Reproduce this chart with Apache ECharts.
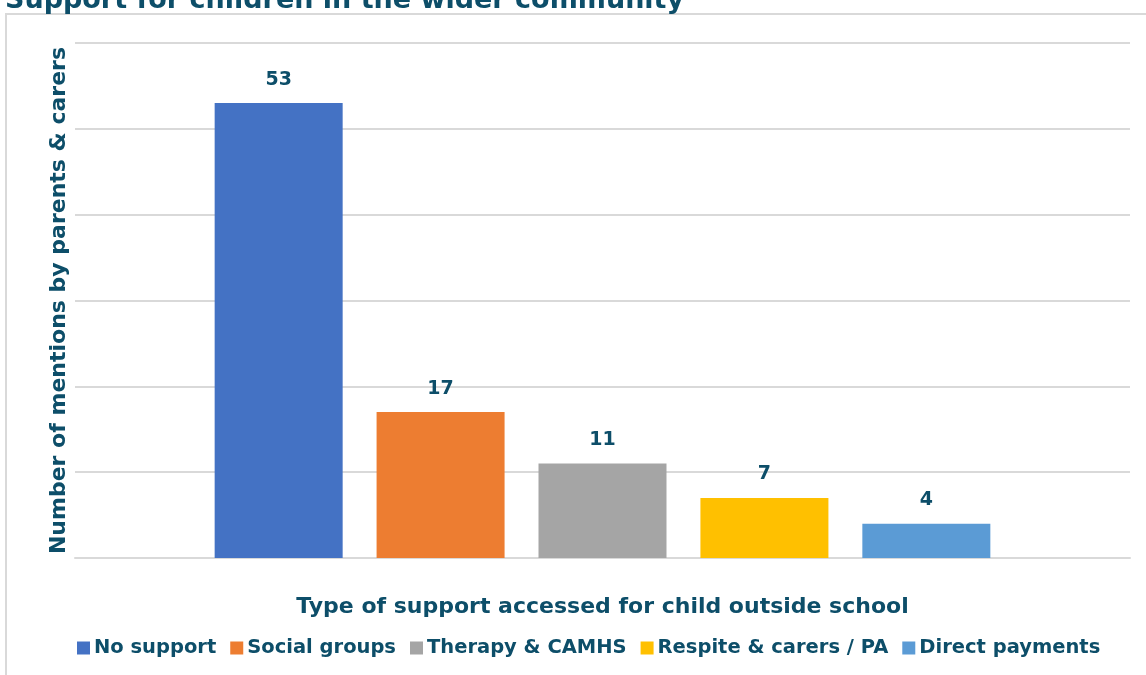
<!DOCTYPE html>
<html>
<head>
<meta charset="utf-8">
<script src="https://cdn.jsdelivr.net/npm/echarts@6/dist/echarts.min.js"></script>
<style>
  html, body { margin: 0; padding: 0; background: #fff; }
  #chart { width: 1146px; height: 675px; }
</style>
</head>
<body>
<div id="chart"></div>
<script>
// Support types and how often parents & carers mentioned each
const categories = ['No support', 'Social groups', 'Therapy & CAMHS', 'Respite & carers / PA', 'Direct payments'];
const mentions = [53, 17, 11, 7, 4];
const barColors = ['#4472C4', '#ED7D31', '#A5A5A5', '#FFC000', '#5B9BD5'];

const textColor = '#0D4E69';
const fontFamily = '"DejaVu Sans", sans-serif';

const chart = echarts.init(document.getElementById('chart'));

const series = categories.map((name, i) => ({
  name: name,
  type: 'bar',
  data: [mentions[i]],
  barWidth: 128,
  barGap: '26.5%',
  itemStyle: { color: barColors[i] },
  label: {
    show: true,
    position: 'top',
    distance: 14,
    color: textColor,
    fontFamily: fontFamily,
    fontWeight: 'bold',
    fontSize: 19
  }
}));

chart.setOption({
  animation: false,
  title: {
    text: 'Support for children in the wider community',
    left: 0,
    top: -18,
    textStyle: { color: textColor, fontFamily: fontFamily, fontWeight: 'bold', fontSize: 27 }
  },
  graphic: [{
    type: 'rect',
    shape: { x: 6, y: 14, width: 1200, height: 700 },
    style: { fill: 'none', stroke: '#D9D9D9', lineWidth: 2 },
    silent: true
  }],
  grid: { left: 75, right: 16, top: 43, bottom: 117 },
  legend: {
    bottom: 12,
    left: 72,
    itemWidth: 13,
    itemHeight: 13,
    itemGap: 14,
    icon: 'rect',
    textStyle: { color: textColor, fontFamily: fontFamily, fontWeight: 'bold', fontSize: 19.5, padding: [0, 0, 0, -1] },
    data: categories
  },
  xAxis: {
    type: 'category',
    data: [''],
    name: 'Type of support accessed for child outside school',
    nameLocation: 'middle',
    nameGap: 38,
    nameTextStyle: { color: textColor, fontFamily: fontFamily, fontWeight: 'bold', fontSize: 22 },
    axisLine: { lineStyle: { color: '#D9D9D9', width: 2 } },
    axisTick: { show: false },
    axisLabel: { show: false }
  },
  yAxis: {
    type: 'value',
    min: 0,
    max: 60,
    interval: 10,
    name: 'Number of mentions by parents & carers',
    nameLocation: 'middle',
    nameGap: 5,
    nameTextStyle: { color: textColor, fontFamily: fontFamily, fontWeight: 'bold', fontSize: 22 },
    axisLine: { show: false },
    axisTick: { show: false },
    axisLabel: { show: false },
    splitLine: { lineStyle: { color: '#D9D9D9', width: 2 } }
  },
  series: series
});
</script>
</body>
</html>
